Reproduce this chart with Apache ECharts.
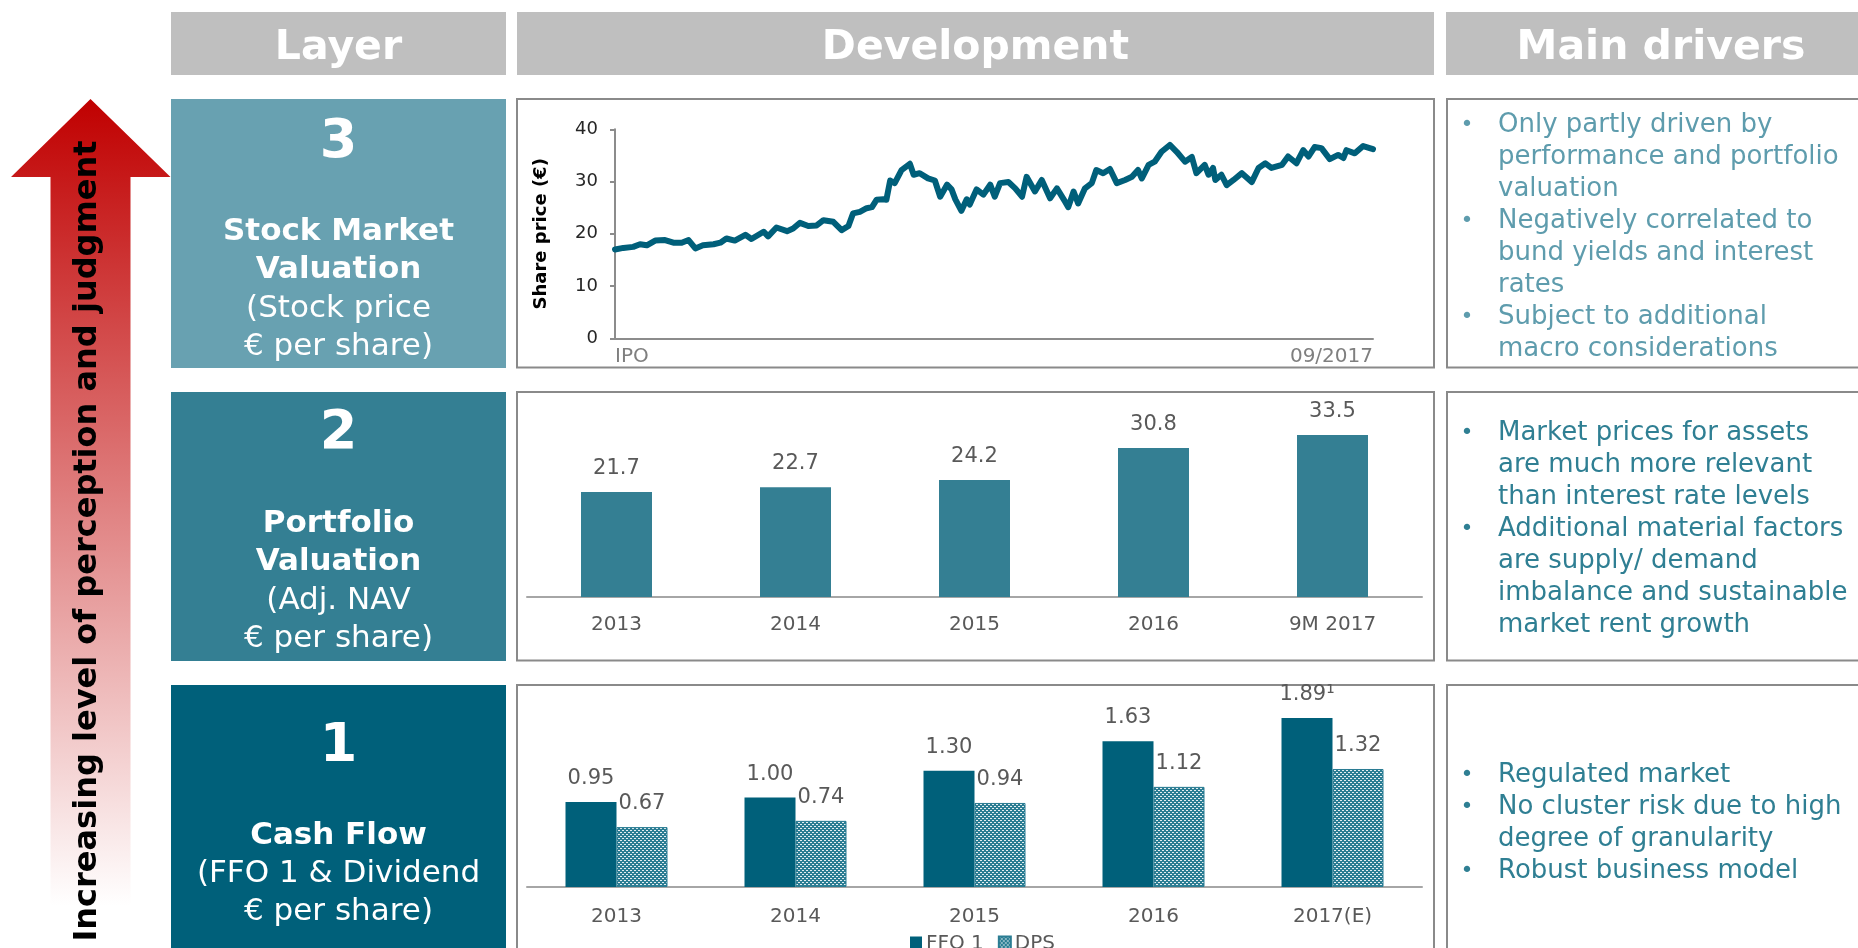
<!DOCTYPE html>
<html>
<head>
<meta charset="utf-8">
<script src="https://cdn.jsdelivr.net/npm/echarts@6/dist/echarts.min.js"></script>
<style>
  html, body { margin: 0; padding: 0; background: #ffffff; }
  #chart { width: 1858px; height: 948px; }
</style>
</head>
<body>
<div id="chart"></div>
<script>
// ---- Layer 3: share price since IPO (position in the IPO → 09/2017 window, % of elapsed time) ----
const priceTime = [
  0, 1.1, 2.4, 3.3, 4.2, 5.3, 6.6, 7.7, 8.8, 9.7,
  10.6, 11.6, 13.0, 13.9, 14.7, 15.8, 17.2, 18.0, 19.6, 20.2,
  21.3, 22.7, 23.5, 24.4, 25.5, 26.6, 27.5, 28.8, 29.9, 30.8,
  31.4, 32.3, 33.2, 33.9, 34.5, 35.4, 35.8, 36.3, 36.9, 37.8,
  38.9, 39.4, 40.2, 41.3, 42.2, 42.9, 43.8, 44.4, 44.9, 45.7,
  46.4, 46.8, 47.7, 48.6, 49.5,
  50.1, 50.8, 51.9, 52.8, 53.7, 54.3, 55.4, 56.3, 57.4, 58.3,
  59.4, 59.8, 60.5, 61.1, 62.0, 62.9, 63.5, 64.4, 65.3, 66.2,
  67.3, 68.2, 69.0, 69.5, 70.4, 71.2, 72.1, 73.2, 74.1, 75.2,
  76.1, 76.7, 77.8, 78.3, 78.9, 79.2, 80.0, 80.7, 81.6, 82.7,
  84.0, 84.9, 85.8, 86.6, 88.0, 88.8, 89.9, 90.8, 91.5, 92.3,
  93.2, 94.3, 95.4, 96.1, 96.5, 97.6, 98.7, 100
];
const priceValue = [
  17.0, 17.3, 17.5, 18.0, 17.8, 18.7, 18.8, 18.3, 18.3, 18.8,
  17.2, 17.8, 18.0, 18.3, 19.1, 18.7, 19.8, 19.0, 20.4, 19.5,
  21.2, 20.5, 21.0, 22.1, 21.5, 21.6, 22.6, 22.3, 20.7, 21.5,
  23.9, 24.2, 24.9, 25.1, 26.5, 26.6, 26.5, 30.2, 29.7, 32.2,
  33.4, 31.3, 31.6, 30.6, 30.2, 27.1, 29.4, 28.5, 26.6, 24.4,
  26.6, 25.6, 28.5, 27.5, 29.4,
  27.1, 29.7, 29.9, 28.7, 27.1, 30.9, 28.1, 30.3, 26.8, 28.7,
  26.1, 25.1, 28.1, 25.8, 28.7, 29.7, 32.2, 31.6, 32.4, 29.7,
  30.3, 30.9, 32.2, 30.6, 33.2, 33.8, 35.7, 37.0, 35.7, 33.8,
  34.7, 31.6, 33.2, 31.3, 32.6, 30.3, 31.3, 29.3, 30.3, 31.6,
  29.9, 32.6, 33.5, 32.6, 33.2, 34.8, 33.5, 36.0, 34.8, 36.6,
  36.4, 34.3, 35.1, 34.5, 36.0, 35.4, 36.8, 36.2
];
const priceAxisStart = 'IPO';
const priceAxisEnd = '09/2017';
const priceTicks = [0, 10, 20, 30, 40];

// ---- Layer 2: Adj. NAV per share ----
const navCategories = ['2013', '2014', '2015', '2016', '9M 2017'];
const navValues = [21.7, 22.7, 24.2, 30.8, 33.5];

// ---- Layer 1: FFO 1 and dividend per share ----
const cfCategories = ['2013', '2014', '2015', '2016', '2017(E)'];
const ffoValues = [0.95, 1.00, 1.30, 1.63, 1.89];
const ffoNotes = ['', '', '', '', '\u00B9'];
const dpsValues = [0.67, 0.74, 0.94, 1.12, 1.32];

// ---- Texts ----
const headers = ['Layer', 'Development', 'Main drivers'];
const layers = [
  { num: '3', title: ['Stock Market', 'Valuation'], sub: ['(Stock price', '\u20AC per share)'] },
  { num: '2', title: ['Portfolio', 'Valuation'], sub: ['(Adj. NAV', '\u20AC per share)'] },
  { num: '1', title: ['Cash Flow'], sub: ['(FFO 1 & Dividend', '\u20AC per share)'] }
];
const drivers = [
  [['Only partly driven by', 'performance and portfolio', 'valuation'],
   ['Negatively correlated to', 'bund yields and interest', 'rates'],
   ['Subject to additional', 'macro considerations']],
  [['Market prices for assets', 'are much more relevant', 'than interest rate levels'],
   ['Additional material factors', 'are supply/ demand', 'imbalance and sustainable', 'market rent growth']],
  [['Regulated market'],
   ['No cluster risk due to high', 'degree of granularity'],
   ['Robust business model']]
];
const arrowCaption = 'Increasing level of perception and judgment';

// ---- Styling ----
const FONT = '"DejaVu Sans", Verdana, sans-serif';
const C_LAYER = ['#68A1B1', '#347F93', '#00607A'];
const C_DRIVER = ['#5E9CAD', '#2F7F93', '#2F7F93'];
const C_HEADER = '#BFBFBF';
const C_BORDER = '#8A8A8A';
const C_AXIS = '#A6A6A6';
const C_LABEL = '#595959';

// dotted fill used for the dividend bars
function dotPattern() {
  const c = document.createElement('canvas');
  c.width = 4; c.height = 4;
  const g = c.getContext('2d');
  g.fillStyle = '#2B7D93';
  g.fillRect(0, 0, 4, 4);
  g.fillStyle = '#E4EEF1';
  g.fillRect(0, 0, 1, 1);
  g.fillRect(2, 2, 1, 1);
  g.fillRect(1, 0, 1, 1);
  g.fillRect(3, 2, 1, 1);
  return c;
}

function text(str, x, y, size, color, weight, align, extra) {
  return Object.assign({
    type: 'text', x: x, y: y, silent: true, z: 10,
    style: {
      text: str, fill: color,
      font: (weight || 'normal') + ' ' + size + 'px ' + FONT,
      align: align || 'center', verticalAlign: 'middle'
    }
  }, extra || {});
}
function rect(x, y, w, h, style, z) {
  return { type: 'rect', silent: true, z: z || 1, shape: { x: x, y: y, width: w, height: h }, style: style };
}

// ---- Page layout (rows of the table) ----
const rowTop = [99, 392, 685];
const rowBottom = [367.5, 660.5, 960];
const graphics = [];

// arrow on the left
graphics.push({
  type: 'polygon', silent: true, z: 1,
  shape: { points: [[90.5, 99], [170.5, 177], [130.5, 177], [130.5, 948], [50.5, 948], [50.5, 177], [11, 177]] },
  style: {
    fill: {
      type: 'linear', x: 0, y: 0, x2: 0, y2: 1, global: false,
      colorStops: [{ offset: 0, color: '#C00000' }, { offset: 0.95, color: '#FFFFFF' }, { offset: 1, color: '#FFFFFF' }]
    }
  }
});
graphics.push(text(arrowCaption, 88, 541, 32, '#000000', 'bold', 'center', { rotation: Math.PI / 2 }));

// header bar
graphics.push(rect(171, 12, 335, 63, { fill: C_HEADER }));
graphics.push(rect(517, 12, 917, 63, { fill: C_HEADER }));
graphics.push(rect(1446, 12, 430, 63, { fill: C_HEADER }));
graphics.push(text(headers[0], 338.5, 48, 41, '#FFFFFF', 'bold'));
graphics.push(text(headers[1], 975.5, 48, 41, '#FFFFFF', 'bold'));
graphics.push(text(headers[2], 1661, 48, 41, '#FFFFFF', 'bold'));

// layer boxes with their descriptions
const layerTextY = [
  [143, [232, 270], [309, 347]],
  [434, [524, 562], [601, 639]],
  [747, [836], [874, 912]]
];
layers.forEach(function (L, i) {
  const top = rowTop[i];
  graphics.push(rect(171, top, 335, (i === 2 ? 948 : rowBottom[i]) - top + 0.5, { fill: C_LAYER[i] }));
  graphics.push(text(L.num, 338.5, layerTextY[i][0], 54, '#FFFFFF', 'bold'));
  L.title.forEach(function (t, k) { graphics.push(text(t, 338.5, layerTextY[i][1][k], 31, '#FFFFFF', 'bold')); });
  L.sub.forEach(function (t, k) { graphics.push(text(t, 338.5, layerTextY[i][2][k], 31, '#FFFFFF', 'normal')); });
  // framed panels for the charts and the drivers
  graphics.push(rect(517, top, 917, rowBottom[i] - top, { fill: null, stroke: C_BORDER, lineWidth: 2 }, 0));
  graphics.push(rect(1447, top, 440, rowBottom[i] - top, { fill: null, stroke: C_BORDER, lineWidth: 2 }, 0));
});

// bullet lists of main drivers
const driverFirstY = [125, 433, 775];
const driverStep = 32;
drivers.forEach(function (list, i) {
  let line = 0;
  list.forEach(function (item) {
    item.forEach(function (t, k) {
      const y = driverFirstY[i] + line * driverStep;
      if (k === 0) graphics.push(text('\u2022', 1467, y, 22, C_DRIVER[i], 'normal', 'center'));
      graphics.push(text(t, 1498, y, 26, C_DRIVER[i], 'normal', 'left'));
      line++;
    });
  });
});

const dps = dotPattern();

const option = {
  animation: false,
  textStyle: { fontFamily: FONT },
  graphic: { elements: graphics },
  legend: {
    data: ['FFO 1', 'DPS'],
    left: 905, top: 929,
    icon: 'rect', itemWidth: 12, itemHeight: 15, itemGap: 14,
    textStyle: { fontSize: 20, color: C_LABEL, fontFamily: FONT, padding: [0, 0, 0, -1] }
  },
  grid: [
    { left: 615, top: 129.3, width: 758, height: 209 },
    { left: 527, top: 403.6, width: 895, height: 193.4 },
    { left: 527, top: 708.2, width: 895, height: 178.8 }
  ],
  xAxis: [
    {
      gridIndex: 0, type: 'value', min: 0, max: 100, interval: 100,
      axisLine: { lineStyle: { color: '#8C8C8C', width: 2 } },
      axisTick: { show: false }, splitLine: { show: false },
      axisLabel: {
        fontSize: 20, color: '#7F7F7F', margin: 8,
        alignMinLabel: 'left', alignMaxLabel: 'right',
        formatter: function (v) { return v === 0 ? priceAxisStart : (v === 100 ? priceAxisEnd : ''); }
      }
    },
    {
      gridIndex: 1, type: 'category', data: navCategories,
      axisLine: { lineStyle: { color: C_AXIS, width: 2 } },
      axisTick: { length: 6, lineStyle: { color: C_AXIS, width: 2 } },
      axisLabel: { fontSize: 20, color: C_LABEL, margin: 18 }
    },
    {
      gridIndex: 2, type: 'category', data: cfCategories,
      axisLine: { lineStyle: { color: C_AXIS, width: 2 } },
      axisTick: { length: 6, lineStyle: { color: C_AXIS, width: 2 } },
      axisLabel: { fontSize: 20, color: C_LABEL, margin: 20 }
    }
  ],
  yAxis: [
    {
      gridIndex: 0, type: 'value', min: priceTicks[0], max: priceTicks[priceTicks.length - 1], interval: 10,
      name: 'Share price (\u20AC)', nameLocation: 'middle', nameGap: 65,
      nameTextStyle: { fontSize: 18, fontWeight: 'bold', color: '#000000', fontFamily: FONT },
      axisLine: { show: true, lineStyle: { color: '#8C8C8C', width: 2 } },
      axisTick: { show: true, length: 5, lineStyle: { color: '#8C8C8C', width: 2 } },
      splitLine: { show: false },
      axisLabel: { fontSize: 18, color: '#262626', margin: 17 }
    },
    { gridIndex: 1, type: 'value', min: 0, max: 40, show: false },
    { gridIndex: 2, type: 'value', min: 0, max: 2, show: false }
  ],
  series: [
    {
      type: 'line', xAxisIndex: 0, yAxisIndex: 0,
      data: priceTime.map(function (t, i) { return [t, priceValue[i]]; }),
      showSymbol: false, symbol: 'none',
      lineStyle: { color: '#005F7A', width: 6, join: 'round', cap: 'round' }
    },
    {
      type: 'bar', xAxisIndex: 1, yAxisIndex: 1, data: navValues,
      barWidth: 71,
      itemStyle: { color: '#347F93' },
      label: {
        show: true, position: 'top', distance: 13, fontSize: 21, color: C_LABEL,
        formatter: function (p) { return p.value.toFixed(1); }
      }
    },
    {
      name: 'FFO 1', type: 'bar', xAxisIndex: 2, yAxisIndex: 2, data: ffoValues,
      barWidth: 51, barGap: '0%',
      itemStyle: { color: '#00607A' },
      label: {
        show: true, position: 'top', distance: 13, fontSize: 21, color: C_LABEL,
        formatter: function (p) { return p.value.toFixed(2) + ffoNotes[p.dataIndex]; }
      }
    },
    {
      name: 'DPS', type: 'bar', xAxisIndex: 2, yAxisIndex: 2, data: dpsValues,
      barWidth: 51, barGap: '0%',
      itemStyle: { color: { image: dps, repeat: 'repeat' }, borderColor: '#2B7D93', borderWidth: 1 },
      label: {
        show: true, position: 'top', distance: 13, fontSize: 21, color: C_LABEL,
        formatter: function (p) { return p.value.toFixed(2); }
      }
    }
  ]
};

const chart = echarts.init(document.getElementById('chart'), null, { renderer: 'canvas', width: 1858, height: 948 });
chart.setOption(option);
</script>
</body>
</html>
